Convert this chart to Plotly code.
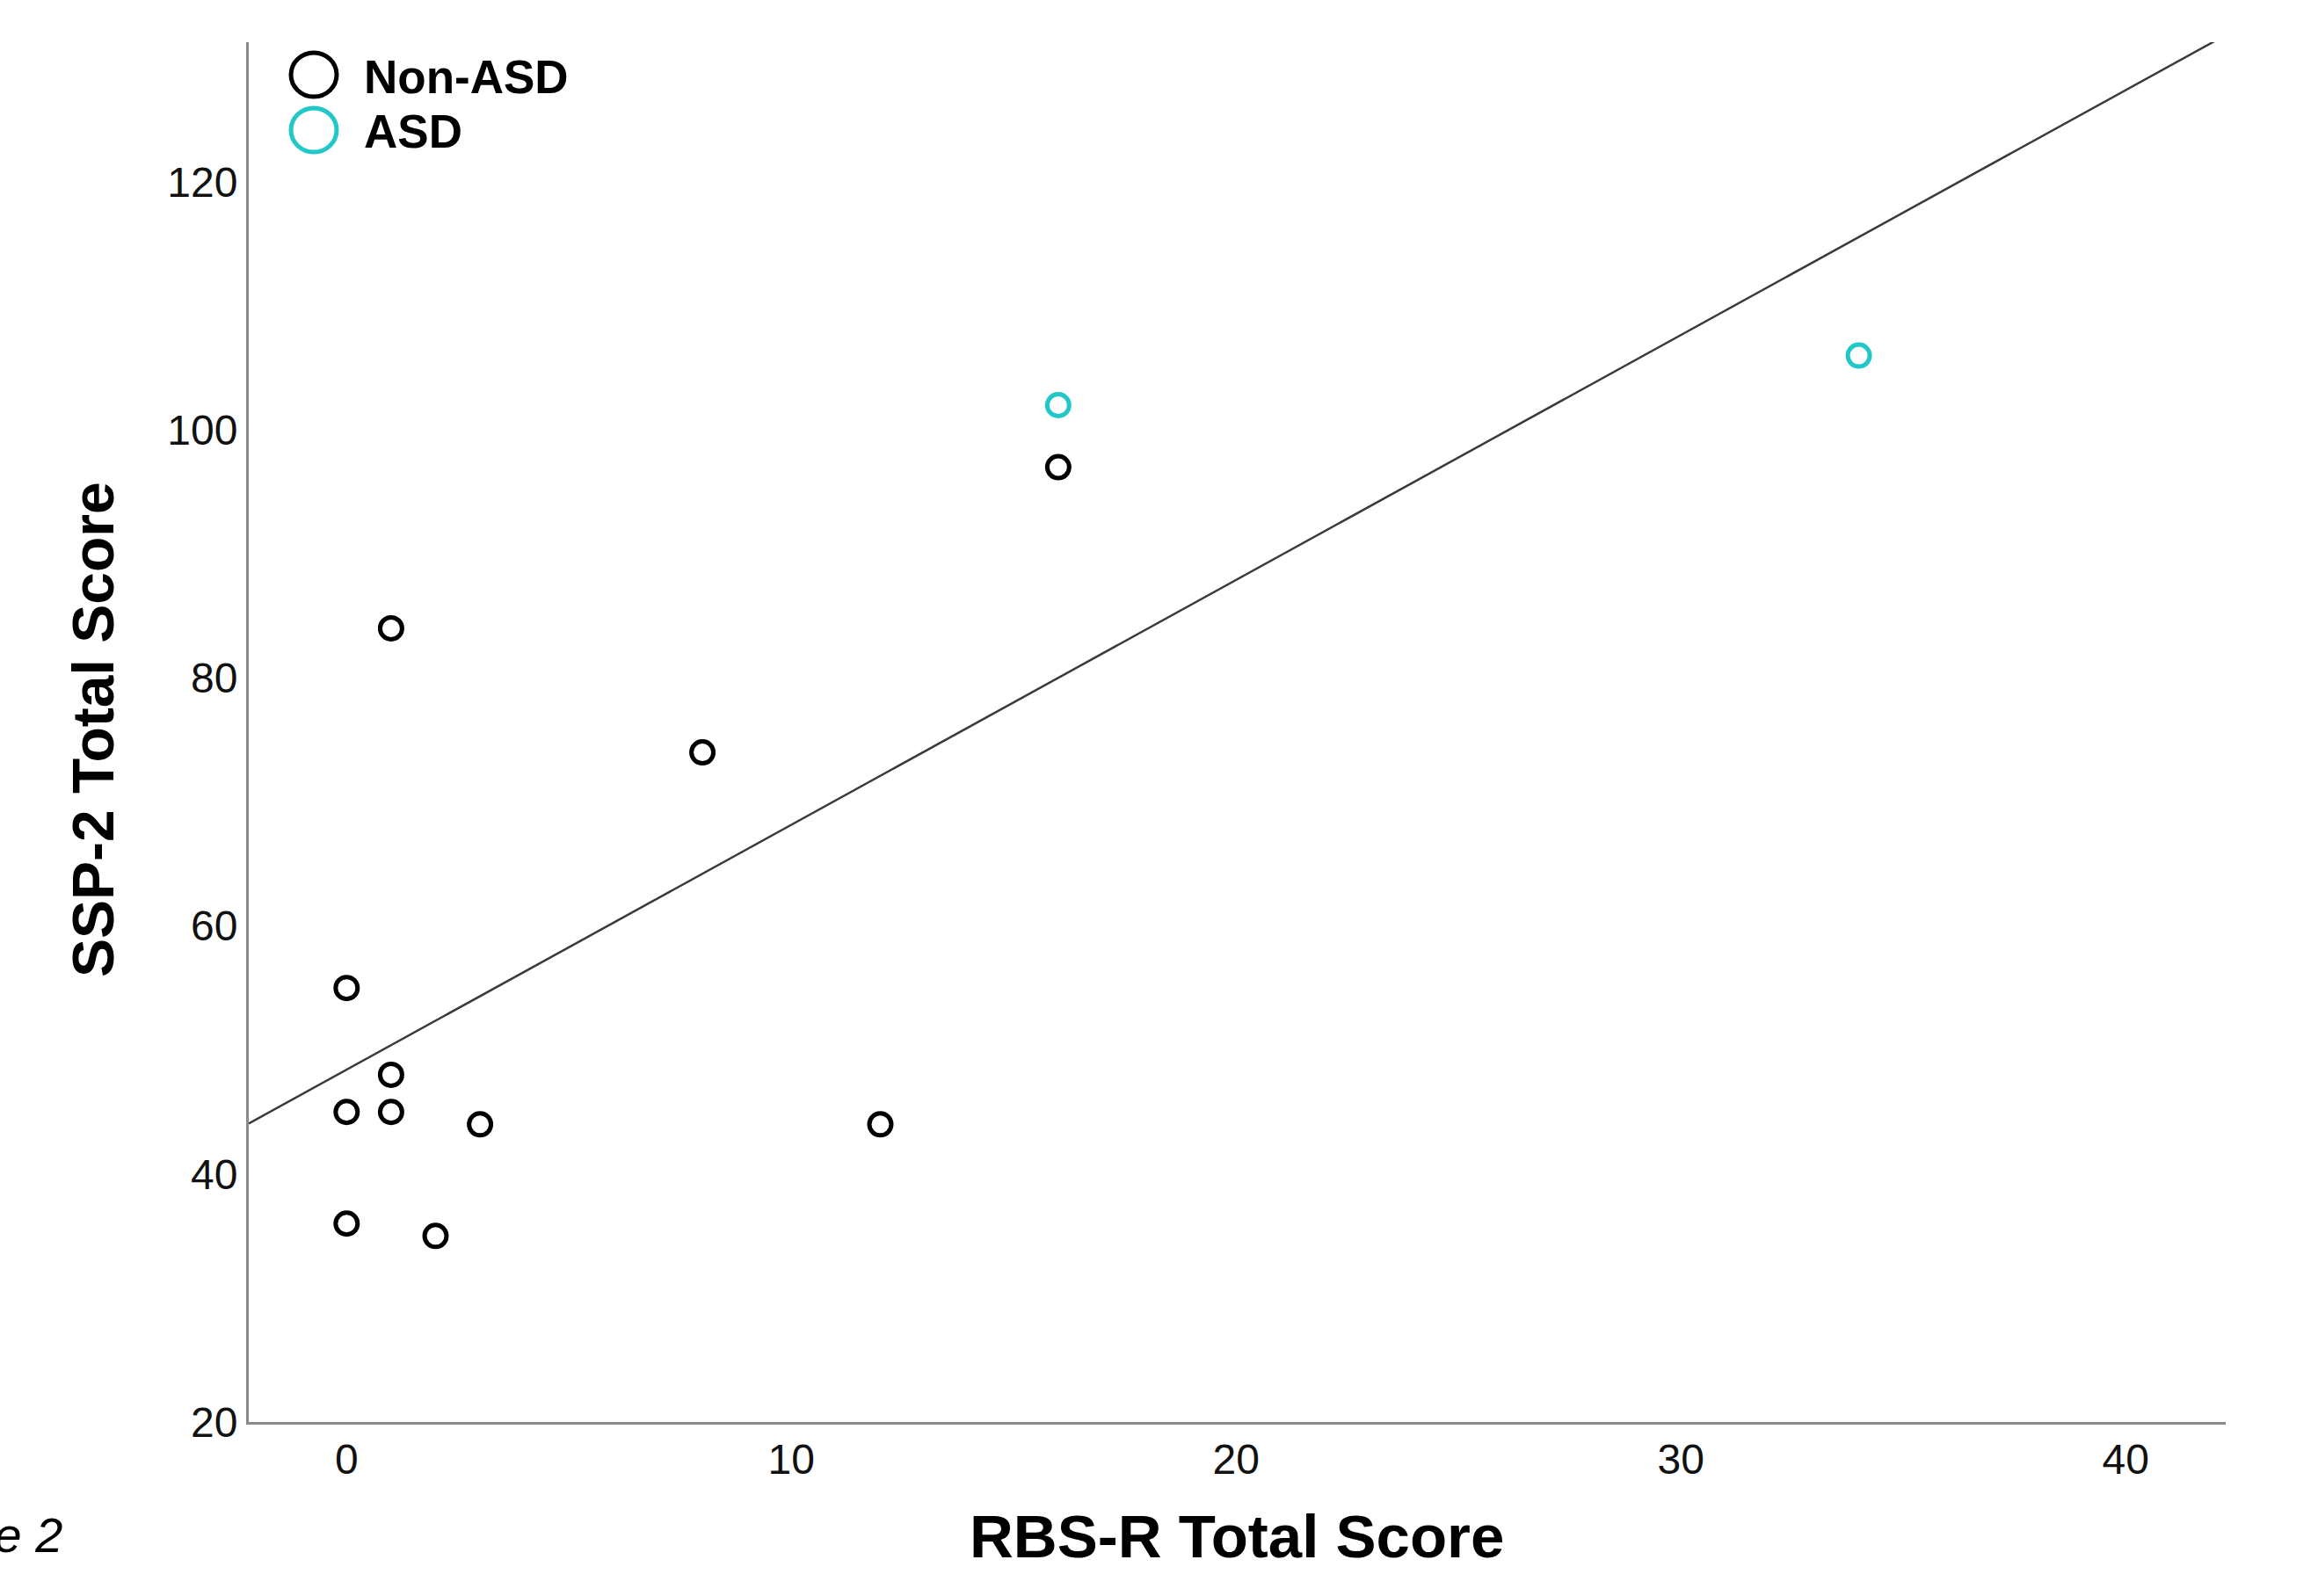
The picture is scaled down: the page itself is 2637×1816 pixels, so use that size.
import numpy as np
import plotly.graph_objects as go

# ---- data ----
non_asd_x = [0, 1, 0, 1, 1, 3, 0, 2, 8, 12, 16]
non_asd_y = [55, 84, 45, 45, 48, 44, 36, 35, 74, 44, 97]
asd_x = [16, 34]
asd_y = [102, 106]
group_names = ["Non-ASD", "ASD"]
x_ticks = [0, 10, 20, 30, 40]
y_ticks = [20, 40, 60, 80, 100, 120]
x_title = "RBS-R Total Score"
y_title = "SSP-2 Total Score"
caption = "Figure 2"

BLACK = "#000000"
TEAL = "#22C7C7"
FONT = "Liberation Sans, Arial, sans-serif"

W, H = 2637, 1816
L, R, T, B = 283, 105, 48, 198
X_RANGE = [-2.2, 42.25]
Y_RANGE = [20, 131.27]

# overall linear fit (all participants)
all_x = np.array(non_asd_x + asd_x, dtype=float)
all_y = np.array(non_asd_y + asd_y, dtype=float)
slope, intercept = np.polyfit(all_x, all_y, 1)
fit_x = np.array(X_RANGE)
fit_y = intercept + slope * fit_x

fig = go.Figure()
fig.add_trace(go.Scatter(
    x=fit_x, y=fit_y, mode="lines",
    line=dict(color="#3a3a3a", width=2.5),
    showlegend=False, hoverinfo="skip"))
fig.add_trace(go.Scatter(
    x=non_asd_x, y=non_asd_y, mode="markers", name=group_names[0],
    marker=dict(symbol="circle-open", size=25, color=BLACK,
                line=dict(color=BLACK, width=5)),
    showlegend=False))
fig.add_trace(go.Scatter(
    x=asd_x, y=asd_y, mode="markers", name=group_names[1],
    marker=dict(symbol="circle-open", size=25, color=TEAL,
                line=dict(color=TEAL, width=5)),
    showlegend=False))

pw, ph = W - L - R, H - T - B
def px2paper_x(px):
    return (px - L) / pw
def px2paper_y(py):
    return (H - B - py) / ph

shapes = []
annotations = []
# legend (large symbols as in the original)
leg_items = [(group_names[0], BLACK, 85), (group_names[1], TEAL, 148)]
for name, col, cy in leg_items:
    shapes.append(dict(
        type="circle", xref="paper", yref="paper",
        xsizemode="pixel", ysizemode="pixel",
        xanchor=px2paper_x(357), yanchor=px2paper_y(cy),
        x0=-26, x1=26, y0=-25, y1=25,
        line=dict(color=col, width=5), fillcolor="rgba(0,0,0,0)"))
    annotations.append(dict(
        text=f"<b>{name}</b>", xref="paper", yref="paper",
        x=px2paper_x(412), y=px2paper_y(cy + 2), xanchor="left", yanchor="middle",
        showarrow=False, font=dict(family=FONT, size=53, color=BLACK)))

# axis titles
annotations.append(dict(
    text=f"<b>{x_title}</b>", xref="paper", yref="paper",
    x=px2paper_x(1407), y=px2paper_y(1748), xanchor="center", yanchor="middle",
    showarrow=False, font=dict(family=FONT, size=69, color=BLACK)))
annotations.append(dict(
    text=f"<b>{y_title}</b>", xref="paper", yref="paper", textangle=-90,
    x=px2paper_x(106), y=px2paper_y(830), xanchor="center", yanchor="middle",
    showarrow=False, font=dict(family=FONT, size=66, color=BLACK)))
# caption (cut off at the left edge as in the source)
annotations.append(dict(
    text=f"<i>{caption}</i>", xref="paper", yref="paper",
    x=px2paper_x(73), y=px2paper_y(1746), xanchor="right", yanchor="middle",
    showarrow=False, font=dict(family=FONT, size=56, color=BLACK)))

fig.update_layout(
    width=W, height=H,
    margin=dict(l=L, r=R, t=T, b=B, autoexpand=False),
    paper_bgcolor="white", plot_bgcolor="white",
    font=dict(family=FONT, color=BLACK),
    shapes=shapes, annotations=annotations,
    showlegend=False,
)
fig.update_xaxes(
    range=X_RANGE, tickvals=x_ticks, ticktext=[str(v) for v in x_ticks],
    showgrid=False, zeroline=False, showline=True, linecolor="#8a8a8a", linewidth=3,
    ticks="", ticklabelstandoff=-2,
    tickfont=dict(family=FONT, size=48, color="#111111"))
fig.update_yaxes(
    range=Y_RANGE, tickvals=y_ticks, ticktext=[str(v) for v in y_ticks],
    showgrid=False, zeroline=False, showline=True, linecolor="#8a8a8a", linewidth=3,
    ticks="", ticklabelstandoff=0,
    tickfont=dict(family=FONT, size=48, color="#111111"))

fig.write_html("out.html")
